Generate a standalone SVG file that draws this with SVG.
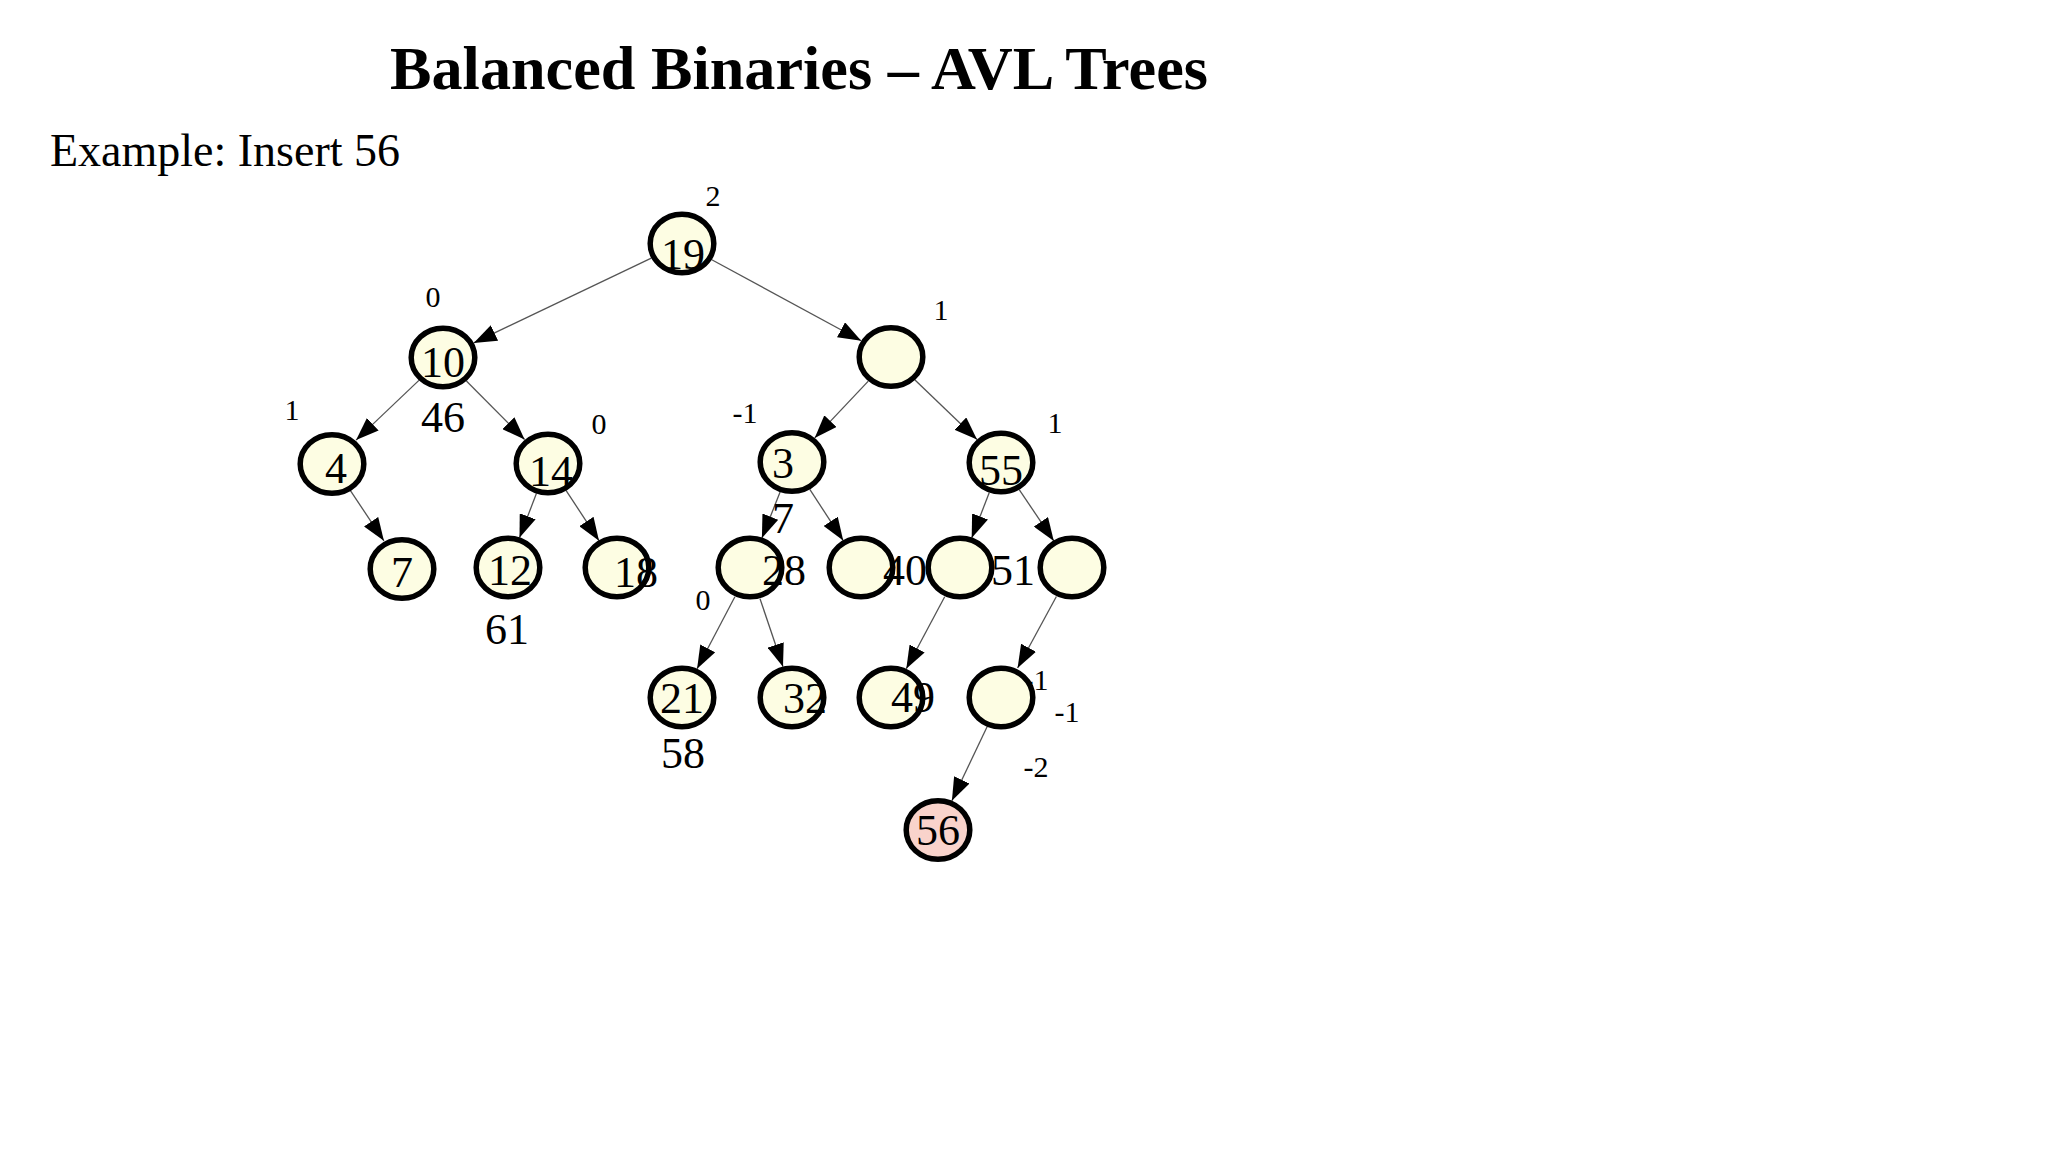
<svg xmlns="http://www.w3.org/2000/svg" width="2048" height="1152" viewBox="0 0 2048 1152">
  <style>
    .t { font-family: "Liberation Serif", "Times New Roman", serif; fill: #000; }
    .title { font-size: 61px; font-weight: bold; }
    .sub { font-size: 46px; }
    .big { font-size: 44px; text-anchor: middle; }
    .small { font-size: 30px; text-anchor: middle; }
    .node { fill: #fdfde3; stroke: #000; stroke-width: 5.5; }
    .hot { fill: #f9d3cb; }
    .edge { stroke: #555; stroke-width: 1.3; fill: none; marker-end: url(#arrow); }
  </style>
  <defs>
    <marker id="arrow" markerUnits="userSpaceOnUse" markerWidth="23" markerHeight="17" refX="23" refY="8.5" orient="auto">
      <path d="M0,0 L23,8.5 L0,17 Z" fill="#000"/>
    </marker>
  </defs>
  <rect width="2048" height="1152" fill="#fff"/>

  <text class="t title" x="390" y="89" textLength="818" lengthAdjust="spacingAndGlyphs">Balanced Binaries – AVL Trees</text>
  <text class="t sub" x="50" y="166">Example: Insert 56</text>

  <g id="connectors">
    <line class="edge" x1="651.3" y1="258.1" x2="473.7" y2="342.9"/>
    <line class="edge" x1="711.8" y1="259.7" x2="861.2" y2="340.8"/>
    <line class="edge" x1="418.9" y1="380.4" x2="356.1" y2="440.1"/>
    <line class="edge" x1="466.4" y1="381" x2="524.6" y2="439.5"/>
    <line class="edge" x1="350.1" y1="490.2" x2="383.9" y2="540.8"/>
    <line class="edge" x1="536.5" y1="493.2" x2="519.5" y2="537.8"/>
    <line class="edge" x1="566" y1="490.3" x2="599" y2="540.7"/>
    <line class="edge" x1="868.3" y1="381.1" x2="814.7" y2="437.9"/>
    <line class="edge" x1="915" y1="380" x2="977" y2="439.5"/>
    <line class="edge" x1="780.1" y1="492" x2="761.9" y2="538"/>
    <line class="edge" x1="809.8" y1="489.4" x2="843.2" y2="540.6"/>
    <line class="edge" x1="989.3" y1="492.6" x2="971.7" y2="537.9"/>
    <line class="edge" x1="1019.2" y1="489.6" x2="1053.8" y2="540.9"/>
    <line class="edge" x1="734.9" y1="596.8" x2="697.1" y2="668.7"/>
    <line class="edge" x1="760" y1="598.7" x2="783" y2="666.8"/>
    <line class="edge" x1="944.7" y1="596.7" x2="906.3" y2="668.8"/>
    <line class="edge" x1="1056.4" y1="596.5" x2="1017.6" y2="668"/>
    <line class="edge" x1="987.1" y1="726.8" x2="951.9" y2="800.7"/>
  </g>

  <g id="label-hidden">
    <text class="t small" x="1036" y="690">-1</text>
  </g>

  <g id="node-19">
    <ellipse class="node" cx="682" cy="243.5" rx="31.8" ry="29.3"/>
    <text class="t big" x="683" y="269">19</text>
  </g>
  <g id="node-10">
    <ellipse class="node" cx="443" cy="357.5" rx="31.8" ry="29.3"/>
    <text class="t big" x="443" y="377">10</text>
  </g>
  <g id="node-r">
    <ellipse class="node" cx="891" cy="357" rx="31.8" ry="29.3"/>
  </g>
  <g id="node-4">
    <ellipse class="node" cx="332" cy="464" rx="31.8" ry="29.3"/>
    <text class="t big" x="336" y="483">4</text>
  </g>
  <g id="node-14">
    <ellipse class="node" cx="548" cy="463.5" rx="31.8" ry="29.3"/>
    <text class="t big" x="551" y="486">14</text>
  </g>
  <g id="node-3">
    <ellipse class="node" cx="792" cy="462" rx="31.8" ry="29.3"/>
    <text class="t big" x="783" y="478">3</text>
  </g>
  <g id="node-55">
    <ellipse class="node" cx="1001" cy="462.5" rx="31.8" ry="29.3"/>
    <text class="t big" x="1001" y="485">55</text>
  </g>
  <g id="node-7">
    <ellipse class="node" cx="402" cy="569" rx="31.8" ry="29.3"/>
    <text class="t big" x="402" y="587">7</text>
  </g>
  <g id="node-12">
    <ellipse class="node" cx="508" cy="567.5" rx="31.8" ry="29.3"/>
    <text class="t big" x="510" y="585">12</text>
  </g>
  <g id="node-18">
    <ellipse class="node" cx="617" cy="567.5" rx="31.8" ry="29.3"/>
    <text class="t big" x="636" y="587">18</text>
  </g>
  <g id="node-28">
    <ellipse class="node" cx="750" cy="567.5" rx="31.8" ry="29.3"/>
    <text class="t big" x="784" y="585">28</text>
  </g>
  <g id="node-40">
    <ellipse class="node" cx="861" cy="567.5" rx="31.8" ry="29.3"/>
    <text class="t big" x="905" y="585">40</text>
  </g>
  <g id="node-51">
    <ellipse class="node" cx="960" cy="567.5" rx="31.8" ry="29.3"/>
    <text class="t big" x="1013" y="585">51</text>
  </g>
  <g id="node-re">
    <ellipse class="node" cx="1072" cy="567.5" rx="31.8" ry="29.3"/>
  </g>
  <g id="node-21">
    <ellipse class="node" cx="682" cy="697.5" rx="31.8" ry="29.3"/>
    <text class="t big" x="682" y="713">21</text>
  </g>
  <g id="node-32">
    <ellipse class="node" cx="792" cy="697.5" rx="31.8" ry="29.3"/>
    <text class="t big" x="805" y="713">32</text>
  </g>
  <g id="node-49">
    <ellipse class="node" cx="891" cy="697.5" rx="31.8" ry="29.3"/>
    <text class="t big" x="913" y="712">49</text>
  </g>
  <g id="node-rb">
    <ellipse class="node" cx="1001" cy="697.5" rx="31.8" ry="29.3"/>
  </g>
  <g id="node-56">
    <ellipse class="node hot" cx="938" cy="830" rx="31.8" ry="29.3"/>
    <text class="t big" x="938" y="845">56</text>
  </g>

  <g id="labels">
    <text class="t big" x="443" y="432">46</text>
    <text class="t big" x="507" y="644">61</text>
    <text class="t big" x="783" y="533">7</text>
    <text class="t big" x="683" y="768">58</text>
    <text class="t small" x="713" y="206">2</text>
    <text class="t small" x="433" y="307">0</text>
    <text class="t small" x="941" y="320">1</text>
    <text class="t small" x="292" y="420">1</text>
    <text class="t small" x="599" y="434">0</text>
    <text class="t small" x="745" y="423">-1</text>
    <text class="t small" x="1055" y="433">1</text>
    <text class="t small" x="703" y="610">0</text>
    <text class="t small" x="1067" y="722">-1</text>
    <text class="t small" x="1036" y="777">-2</text>
  </g>
</svg>
